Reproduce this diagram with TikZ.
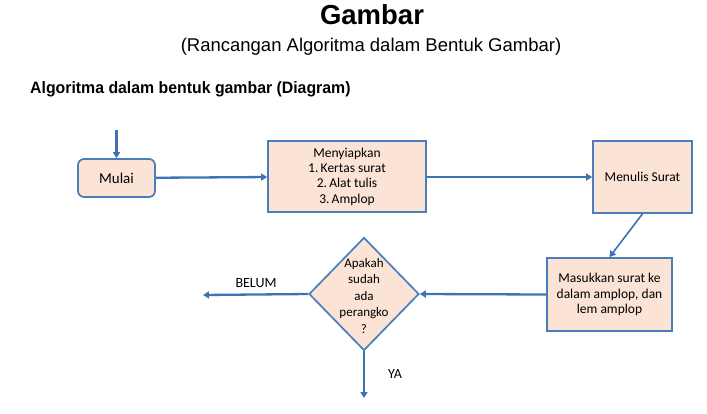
\documentclass[tikz,border=0pt]{standalone}
\usepackage{fontspec}
\setmainfont{Liberation Sans}
\newfontfamily\calib{Carlito}
\usetikzlibrary{shapes.geometric,arrows.meta}
\definecolor{boxfill}{HTML}{FBE3D6}
\definecolor{boxline}{HTML}{4A7EBB}
\definecolor{arrcol}{HTML}{3D72B4}
\begin{document}
\begin{tikzpicture}[x=1pt,y=-1pt,
  box/.style={draw=boxline,fill=boxfill,line width=1.7pt,inner sep=0pt,font=\calib\fontsize{13.5}{15.8}\selectfont,align=center},
  conn/.style={draw=arrcol,line width=2.3pt,-{Triangle[length=6pt,width=7pt]}},
  lbl/.style={font=\calib\fontsize{14}{16}\selectfont}]
\useasboundingbox (0,0) rectangle (707,413);
\node[font=\bfseries\fontsize{27.5}{32}\selectfont] (title) at (372,15) {Gambar};
\node[font=\fontsize{18.5}{22}\selectfont] (sub) at (371,47) {(Rancangan Algoritma dalam Bentuk Gambar)};
\node[font=\bfseries\fontsize{16.5}{19}\selectfont,anchor=west,xscale=0.96,inner sep=0pt] (head) at (30,89) {Algoritma dalam bentuk gambar (Diagram)};
\node[box,rounded corners=6pt,minimum width=77pt,minimum height=38pt,font=\calib\fontsize{15}{17}\selectfont] (mulai) at (116.5,178) {Mulai};
\coordinate (start) at (116.5,130);
\node[box,minimum width=158pt,minimum height=71pt,font=\calib\fontsize{13.5}{15.3}\selectfont] (siap) at (347,176.5) {Menyiapkan\\1.\,Kertas surat\\2.\,Alat tulis\\3.\,Amplop};
\node[box,minimum width=99pt,minimum height=72pt] (tulis) at (642.5,177) {Menulis Surat};
\node[box,minimum width=125pt,minimum height=73pt] (masuk) at (609.5,294.5) {Masukkan surat ke\\dalam amplop, dan\\lem amplop};
\node[box,diamond,aspect=0.97,minimum width=110pt,minimum height=113pt] (tanya) at (364,294) {};
\node[font=\calib\fontsize{13}{16.5}\selectfont,align=center] (tanyatxt) at (364,296) {Apakah\\sudah\\ada\\perangko\\?};
\coordinate (belum) at (203,295);
\coordinate (ya) at (364,398);
\draw[conn] (start) -- (mulai.north);
\draw[conn] (mulai) -- (siap);
\draw[conn] (siap.east |- tulis.west) -- (tulis.west);
\draw[conn,line width=1.6pt] (tulis.south) -- (masuk.north);
\draw[conn] (masuk.west) -- (tanya.east);
\draw[conn] (tanya.west) -- (belum);
\draw[conn] (tanya.south) -- (ya);
\node[lbl] (lbelum) at (256,283) {BELUM};
\node[lbl] (lya) at (395,374) {YA};
\end{tikzpicture}
\end{document}
